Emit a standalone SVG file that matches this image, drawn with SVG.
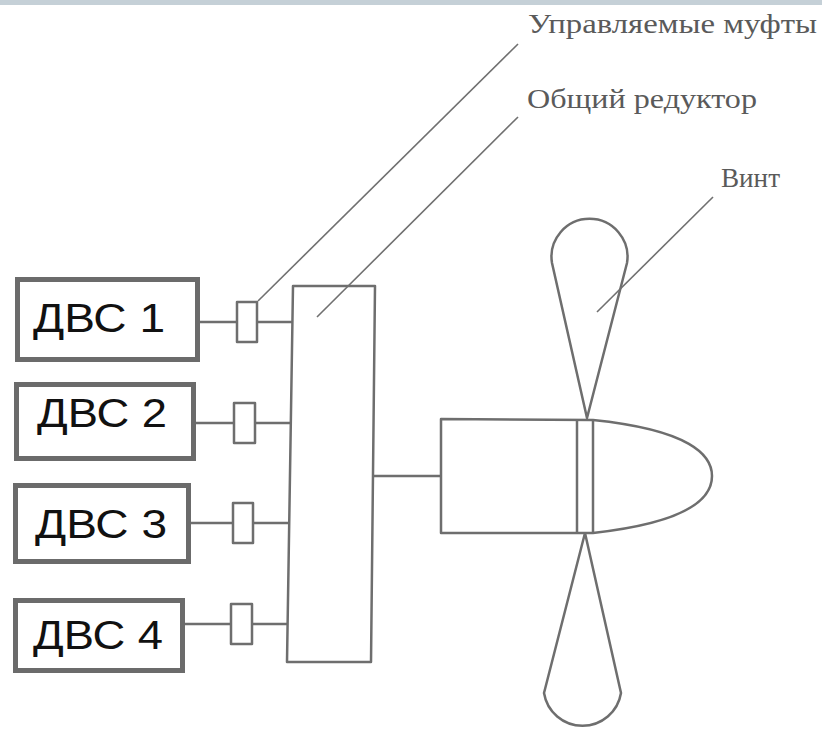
<svg xmlns="http://www.w3.org/2000/svg" width="822" height="733" viewBox="0 0 822 733">
  <style>
    .engine { fill: #ffffff; stroke: #6b6b6b; stroke-width: 5; }
    .engine-label { font-family: "Liberation Sans", Arial, sans-serif; font-size: 40px; fill: #111111; }
    .part { fill: #ffffff; stroke: #6e6e6e; stroke-width: 2.5; stroke-linejoin: round; }
    .shaft { fill: none; stroke: #6e6e6e; stroke-width: 2.5; }
    .leader { fill: none; stroke: #707070; stroke-width: 1.6; }
    .caption { font-family: "Liberation Serif", "Times New Roman", serif; font-size: 28px; fill: #5a5a5a; }
  </style>

  <!-- title strip -->
  <rect x="0" y="0" width="822" height="5" fill="#c5d0d7"/>

  <!-- shafts from engines through clutches to the gearbox, and gearbox to propeller -->
  <g id="connectors">
    <line class="shaft" x1="200" y1="322" x2="237" y2="322"/>
    <line class="shaft" x1="257" y1="322" x2="293" y2="322"/>
    <line class="shaft" x1="196" y1="423" x2="234" y2="423"/>
    <line class="shaft" x1="255" y1="423" x2="291" y2="423"/>
    <line class="shaft" x1="191" y1="523" x2="233" y2="523"/>
    <line class="shaft" x1="253" y1="523" x2="290" y2="523"/>
    <line class="shaft" x1="185" y1="624" x2="231" y2="624"/>
    <line class="shaft" x1="252" y1="624" x2="288" y2="624"/>
    <line class="shaft" x1="372" y1="476" x2="441" y2="476"/>
  </g>

  <!-- engines -->
  <g id="engine1">
    <rect class="engine" x="17.5" y="279.5" width="180" height="80"/>
    <text class="engine-label" x="33" y="332" textLength="132" lengthAdjust="spacingAndGlyphs">ДВС 1</text>
  </g>
  <g id="engine2">
    <rect class="engine" x="16.5" y="384.5" width="177" height="74"/>
    <text class="engine-label" x="37" y="427" textLength="130" lengthAdjust="spacingAndGlyphs">ДВС 2</text>
  </g>
  <g id="engine3">
    <rect class="engine" x="15.5" y="485.5" width="173" height="76"/>
    <text class="engine-label" x="35" y="538" textLength="132" lengthAdjust="spacingAndGlyphs">ДВС 3</text>
  </g>
  <g id="engine4">
    <rect class="engine" x="15.5" y="600.5" width="167" height="70"/>
    <text class="engine-label" x="33" y="649" textLength="130" lengthAdjust="spacingAndGlyphs">ДВС 4</text>
  </g>

  <!-- controllable clutches -->
  <g id="clutch1"><rect class="part" x="237" y="302" width="20" height="40"/></g>
  <g id="clutch2"><rect class="part" x="234" y="403" width="21" height="40"/></g>
  <g id="clutch3"><rect class="part" x="233" y="503" width="20" height="40"/></g>
  <g id="clutch4"><rect class="part" x="231" y="604" width="21" height="40"/></g>

  <!-- common gearbox -->
  <g id="gearbox">
    <path class="part" d="M293 286 L375 286 L371 662 L287 662 Z"/>
  </g>

  <!-- propeller: hub, spinner and two blades -->
  <g id="propeller">
    <path class="part" d="M587 418 L552 263 A38 38 0 1 1 627 263 Z"/>
    <path class="part" d="M585 533 L544 693 A39 39 0 0 0 621 693 Z"/>
    <path class="part" d="M441 419 L593 420 C690 430 712 455 712 476 C712 498 690 522 593 533 L441 533 Z"/>
    <line class="shaft" x1="577" y1="420" x2="577" y2="533"/>
    <line class="shaft" x1="593" y1="420" x2="593" y2="533"/>
  </g>

  <!-- callouts -->
  <g id="label-clutches">
    <line class="leader" x1="518" y1="44" x2="258" y2="301"/>
    <text class="caption" x="528" y="33" textLength="289" lengthAdjust="spacingAndGlyphs">Управляемые муфты</text>
  </g>
  <g id="label-gearbox">
    <line class="leader" x1="518" y1="117" x2="317" y2="317"/>
    <text class="caption" x="527" y="108" textLength="230" lengthAdjust="spacingAndGlyphs">Общий редуктор</text>
  </g>
  <g id="label-propeller">
    <line class="leader" x1="713" y1="197" x2="597" y2="312"/>
    <text class="caption" x="721" y="187" textLength="59" lengthAdjust="spacingAndGlyphs">Винт</text>
  </g>
</svg>
